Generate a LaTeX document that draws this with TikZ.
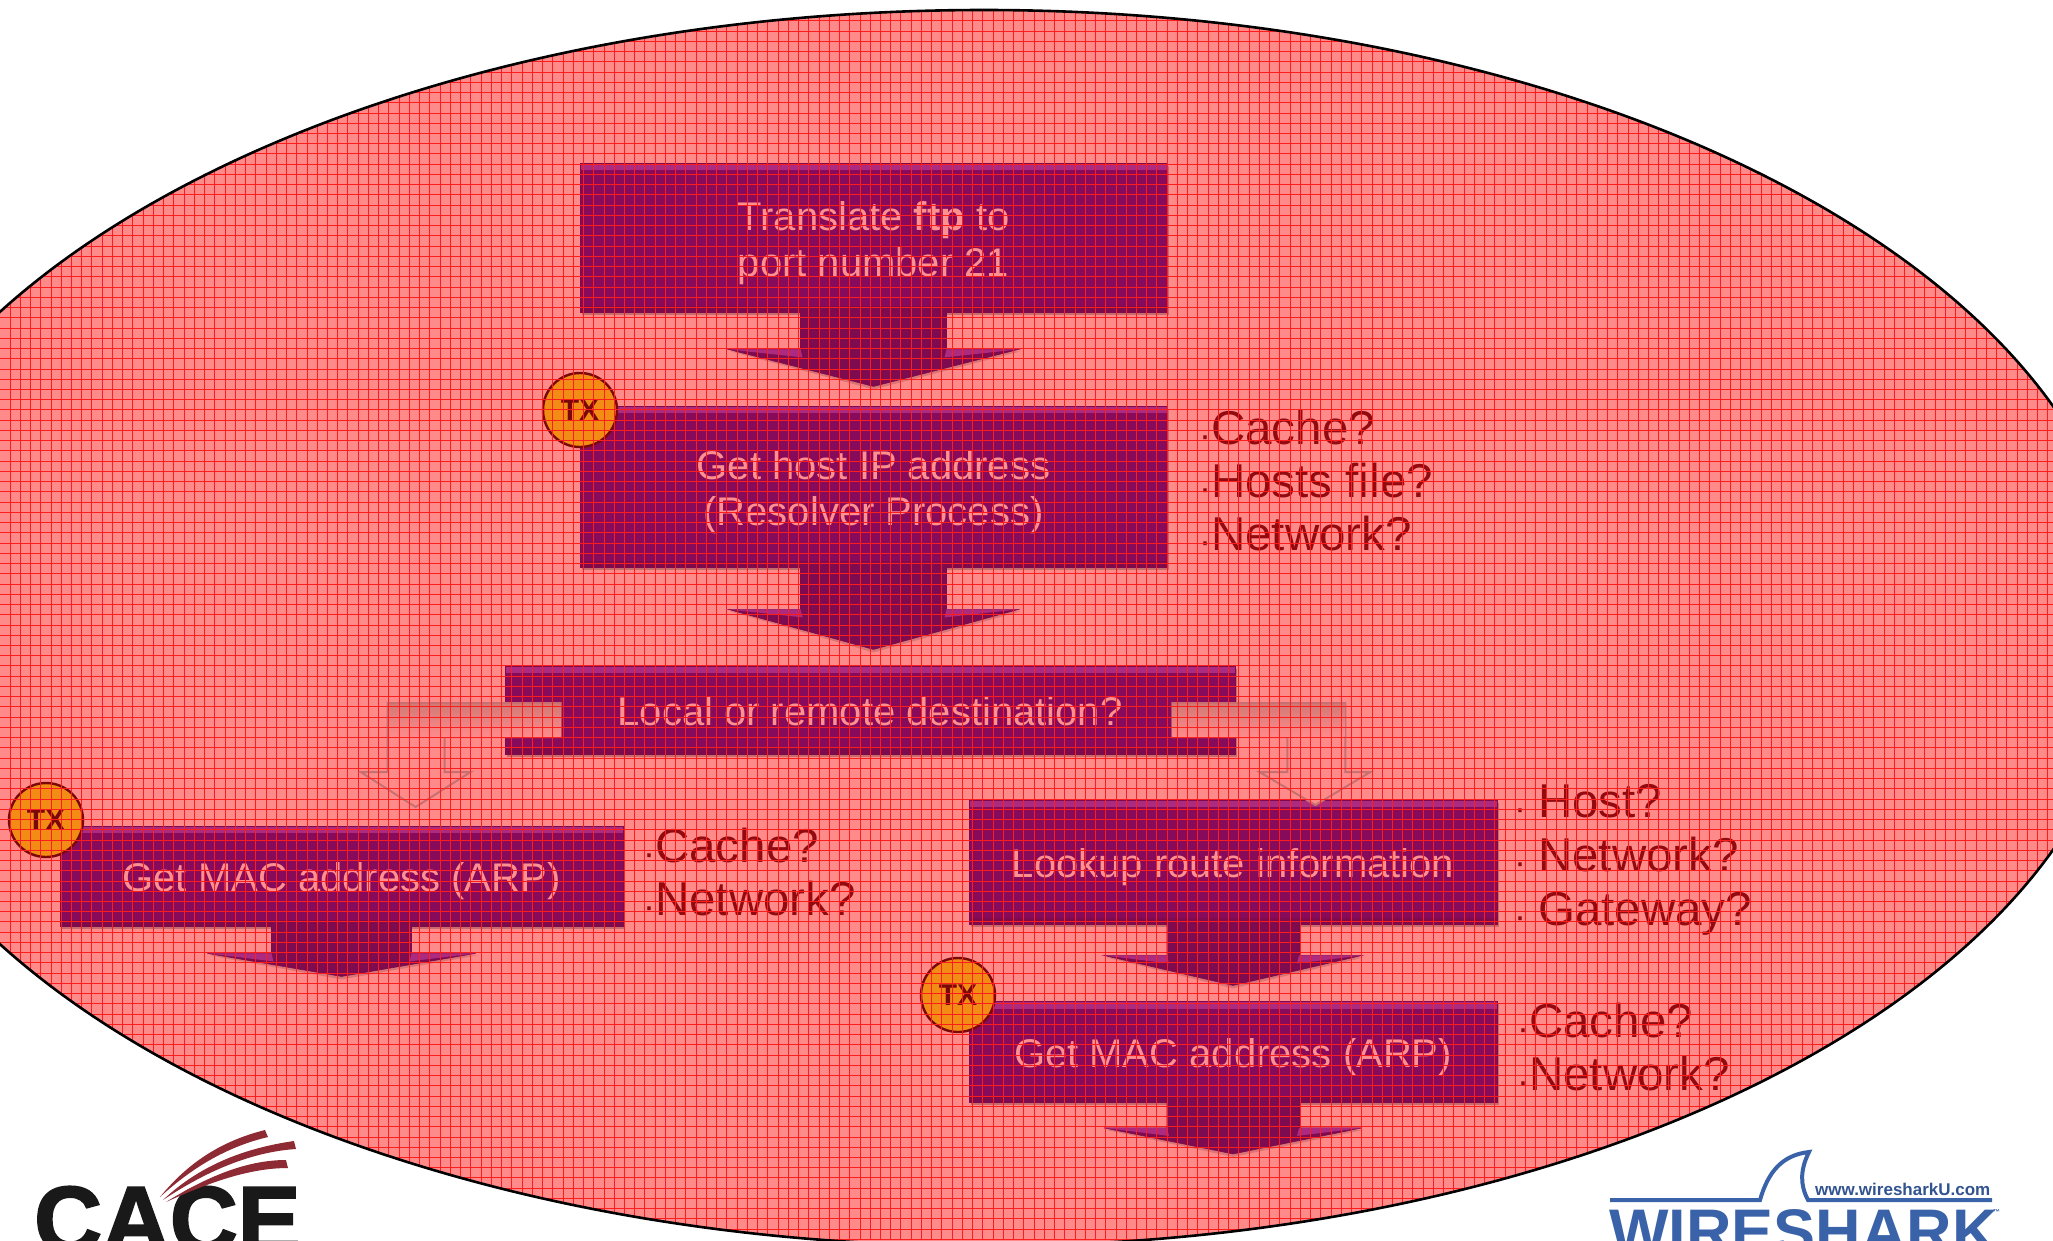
\documentclass[tikz,border=0pt]{standalone}
\usepackage{fontspec}
\setmainfont{Liberation Sans}
\newfontfamily\heavyfont[BoldFeatures={FakeBold=2}]{Liberation Sans}
\usetikzlibrary{shadows,calc}
\definecolor{pinkbg}{HTML}{FF8A8A}
\definecolor{gridred}{HTML}{FF1C1C}
\definecolor{boxpurple}{HTML}{880A5A}
\definecolor{boxtop}{HTML}{AC2A80}
\definecolor{boxbot}{HTML}{7C0A4C}
\definecolor{boxtext}{HTML}{FF9090}
\definecolor{listred}{HTML}{920A10}
\definecolor{txfill}{HTML}{F28C14}
\definecolor{txline}{HTML}{7A0808}
\definecolor{ghost}{HTML}{E48480}
\definecolor{ghostedge}{HTML}{C87070}
\definecolor{sharkblue}{HTML}{3A62A8}
\definecolor{cacered}{HTML}{8E2A34}
\newcommand{\fsz}[1]{\fontsize{#1}{#1}\selectfont}
\newcommand{\bul}{\raisebox{-3pt}{\fsz{36}·}}
\tikzset{
  stepbox/.style={rectangle,inner sep=0pt,fill=boxpurple,draw=boxbot,line width=.8pt,
    text=boxtext,align=center,font=\fsz{40},text height=31pt,text depth=0pt,
    drop shadow={shadow xshift=1.5pt,shadow yshift=-2.5pt,opacity=.22,fill=black},
    path picture={
      \fill[boxtop] (path picture bounding box.north west) rectangle ([yshift=-7pt]path picture bounding box.north east);
      \fill[boxbot] (path picture bounding box.south west) rectangle ([yshift=6pt]path picture bounding box.south east);
    }},
  twolines/.style={text height=73.5pt,text depth=46.5pt},
  txbadge/.style={circle,inner sep=0pt,minimum size=74pt,fill=txfill,draw=txline,line width=2.4pt,
    text=txline,font=\bfseries\fsz{30}},
  listtext/.style={inner sep=0pt,anchor=west,align=left,text=listred,font=\fsz{47.5}},
  blockarrow/.style={fill=boxbot!80!boxpurple,draw=boxbot,line width=.6pt},
  ghostarrow/.style={fill=pinkbg,draw=ghostedge,line width=2pt},
  bandshade/.style={top color=ghost!92!black,bottom color=pinkbg,draw=none},
}
% #1 node, #2 shaft half width, #3 head half width, #4 shaft length, #5 total length
\newcommand{\downblock}[5]{%
  \begin{scope}[shift={(#1.south)}]
    \fill[black,opacity=.15] (-#3+2,#4+2) -- (0,#5+3) -- (#3+2,#4+2) -- cycle;
    \path[blockarrow] (-#2,-6) -- (-#2,#4) -- (-#3,#4) -- (0,#5) -- (#3,#4) -- (#2,#4) -- (#2,-6) -- cycle;
    \fill[boxtop] (-#3,#4) -- (-#2,#4) -- (-#2+2,#4+8) -- cycle;
    \fill[boxtop] (#3,#4) -- (#2,#4) -- (#2-2,#4+8) -- cycle;
    \draw[boxbot,line width=.8pt] (-#2,-1) -- (-#2,#4) (#2,-1) -- (#2,#4);
  \end{scope}}
\begin{document}
\begin{tikzpicture}[x=1pt,y=-1pt]
\useasboundingbox (0,0) rectangle (2053,1240);
\clip (0,0) rectangle (2053,1240);
\fill[white] (0,0) rectangle (2053,1240);
\fill[pinkbg] (984,628) ellipse [x radius=1145,y radius=618];

% boxes
\node[stepbox,twolines,minimum width=587pt,minimum height=149pt] (b1) at (873.5,237.5) {\begin{tabular}{@{}c@{}}Translate \textbf{ftp} to\\[5pt]port number 21\end{tabular}};
\node[stepbox,twolines,minimum width=587pt,minimum height=161pt] (b2) at (873.5,486.5) {\begin{tabular}{@{}c@{}}Get host IP address\\[5pt](Resolver Process)\end{tabular}};
\node[stepbox,minimum width=730pt,minimum height=88pt] (b3) at (870,710) {Local or remote destination?};
\node[stepbox,minimum width=563pt,minimum height=100pt] (b4) at (341.5,876) {Get MAC address (ARP)};
\node[stepbox,minimum width=528pt,minimum height=124pt] (b5) at (1233,862) {Lookup route information};
\node[stepbox,minimum width=528pt,minimum height=101pt] (b6) at (1233,1052) {Get MAC address (ARP)};

% block arrows
\downblock{b1}{73}{145}{37}{74}
\downblock{b2}{73}{145}{42}{82}
\downblock{b4}{70}{134}{27}{50}
\downblock{b5}{66}{129}{31}{61}
\downblock{b6}{66}{129}{25}{51}

% ghost bent arrows leaving the decision box
\coordinate (la) at ($(b3.west)+(56,-7)$);
\coordinate (ra) at ($(b3.east)+(-63,-7)$);
\path[ghostarrow] (la) -- ++(-173,0) -- ++(0,69) -- ++(-27,0) -- ++(55,35) -- ++(55,-35) -- ++(-26,0) -- ++(0,-35) -- ++(116,0) -- cycle;
\path[ghostarrow] (ra) -- ++(173,0) -- ++(0,69) -- ++(25,0) -- ++(-55,33) -- ++(-56,-33) -- ++(28,0) -- ++(0,-35) -- ++(-115,0) -- cycle;
\shade[bandshade] ($(la)+(0,1)$) rectangle ($(la)+(-172,33)$);
\shade[bandshade] ($(ra)+(0,1)$) rectangle ($(ra)+(172,33)$);

% lists
\node[listtext] (l1) at (1199,482) {\bul Cache?\\[5.5pt]\bul Hosts file?\\[5.5pt]\bul Network?};
\node[listtext] (l2) at (643,873) {\bul Cache?\\[5.5pt]\bul Network?};
\node[listtext] (l3) at (1514,860) {\bul\hspace{12pt}Host?\\[6.5pt]\bul\hspace{12pt}Network?\\[6.5pt]\bul\hspace{12pt}Gateway?};
\node[listtext] (l4) at (1517,1048) {\bul Cache?\\[5.5pt]\bul Network?};

% TX badges
\node[txbadge] (t1) at (580,410) {TX};
\node[txbadge] (t2) at (46,820) {TX};
\node[txbadge] (t3) at (958,995) {TX};

% grid on top, inside the ellipse
\begin{scope}
  \clip (984,628) ellipse [x radius=1145,y radius=618];
  \foreach \i in {0,...,201} {
    \draw[gridred,line width=.85pt] ({\i*10.24-.24},0) -- ({\i*10.24-.24},1240);
  }
  \foreach \i in {0,...,122} {
    \draw[gridred,line width=.85pt] (0,{\i*10.24+.3}) -- (2053,{\i*10.24+.3});
  }
\end{scope}
\draw[black,line width=2.6pt] (984,628) ellipse [x radius=1145,y radius=618];

% CACE logo
\node[inner sep=0pt,anchor=base west,text=black!90,font=\heavyfont\bfseries\fsz{94}] (cace) at (34,1252) {CACE};
\fill[cacered] (160,1197) .. controls (190,1160) and (225,1140) .. (265,1130) -- (268,1137) .. controls (230,1146) and (195,1165) .. cycle;
\fill[cacered] (163,1200) .. controls (200,1165) and (245,1148) .. (294,1141) -- (296,1149) .. controls (250,1152) and (205,1172) .. cycle;
\fill[cacered] (166,1202) .. controls (205,1178) and (245,1160) .. (286,1160) -- (288,1168) .. controls (250,1168) and (210,1182) .. cycle;

% Wireshark logo
\node[inner sep=0pt,anchor=base west,text=sharkblue,font=\bfseries\fsz{63}] (wsk) at (1609,1253) {WIRESHARK};
\node[inner sep=0pt,anchor=base west,text=sharkblue!85!black,font=\bfseries\fsz{17}] (url) at (1815,1195) {www.wiresharkU.com};
\node[inner sep=0pt,anchor=base west,text=sharkblue,font=\bfseries\fsz{7}] (tm) at (1993,1214) {™};
\draw[sharkblue,line width=4pt] (1610,1200) -- (1760,1200) .. controls (1768,1172) and (1782,1155) .. (1809,1152) .. controls (1800,1170) and (1800,1185) .. (1808,1200) -- (1992,1200);
\end{tikzpicture}
\end{document}
